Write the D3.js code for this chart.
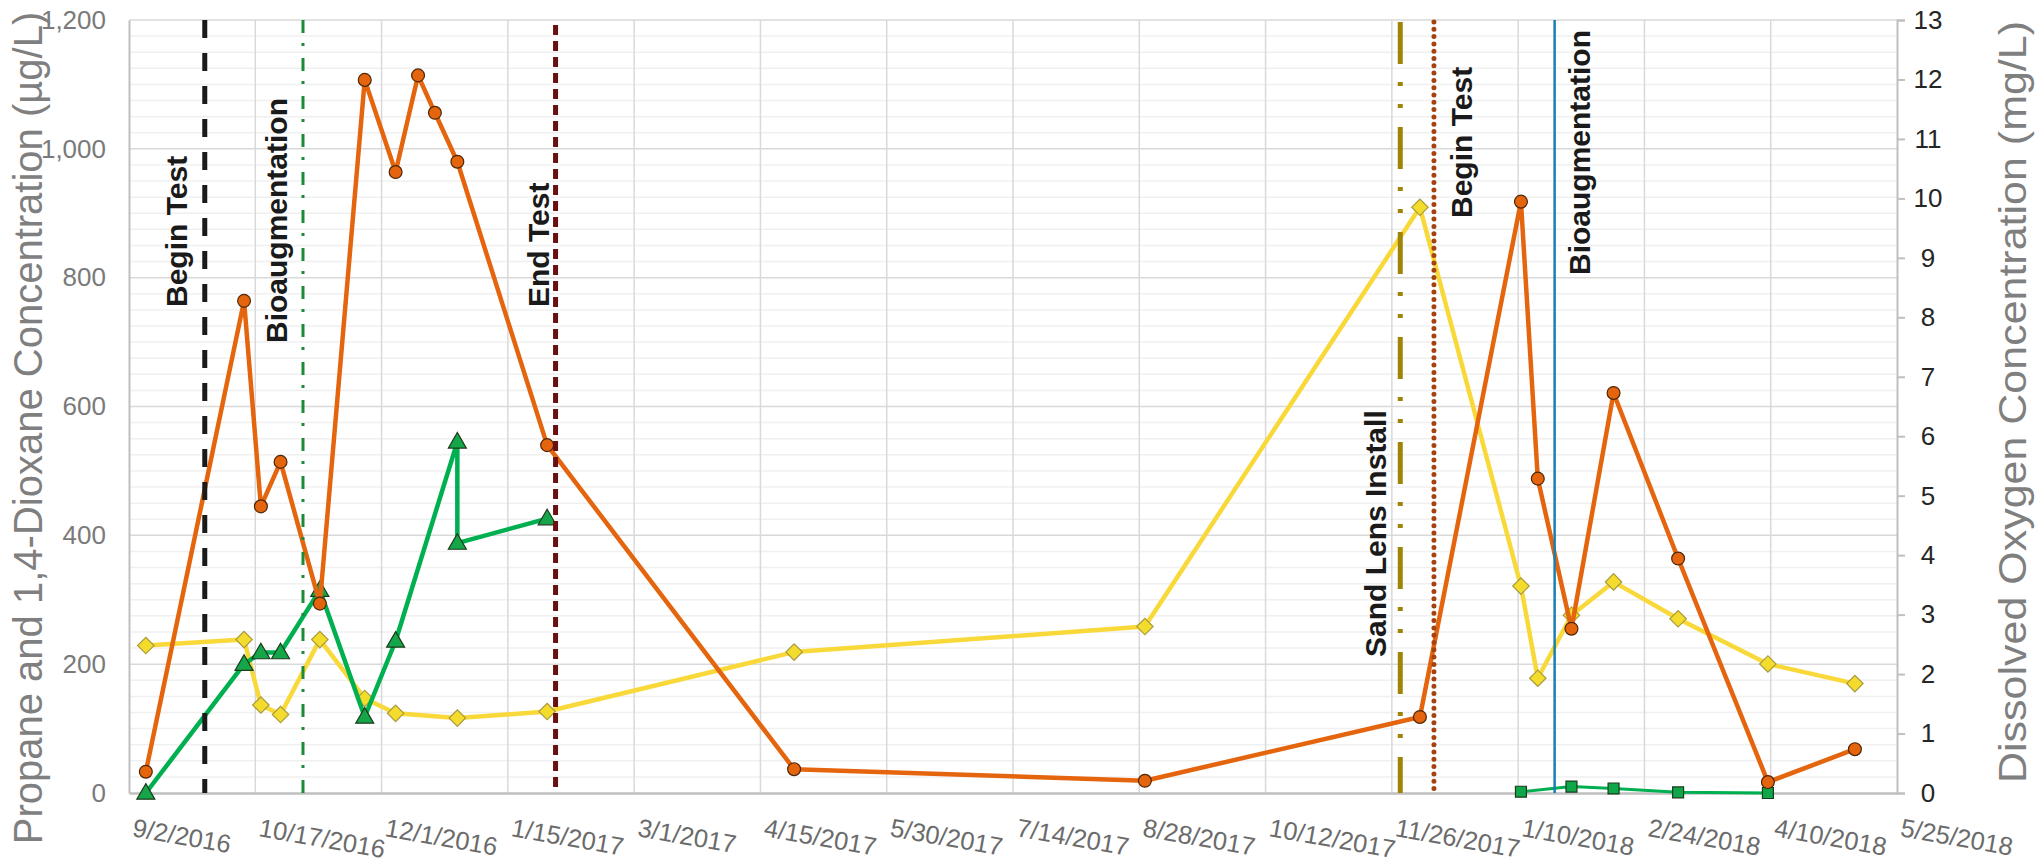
<!DOCTYPE html>
<html>
<head>
<meta charset="utf-8">
<script src="https://cdn.jsdelivr.net/npm/d3@7"></script>
<style>
  html, body { margin: 0; padding: 0; background: #ffffff; }
  svg { display: block; font-family: "Liberation Sans", Arial, sans-serif; }
</style>
</head>
<body>
<svg id="chart" width="2040" height="861"></svg>
<script>
// ---------------- DATA ----------------
const xTickLabels = ["9/2/2016","10/17/2016","12/1/2016","1/15/2017","3/1/2017","4/15/2017","5/30/2017",
  "7/14/2017","8/28/2017","10/12/2017","11/26/2017","1/10/2018","2/24/2018","4/10/2018","5/25/2018"];
const leftTicks = [0, 200, 400, 600, 800, 1000, 1200];
const rightTicks = [0,1,2,3,4,5,6,7,8,9,10,11,12,13];

// 1,4-Dioxane (µg/L, left axis) – orange circles
const dioxaneDates = ["9/8/2016","10/13/2016","10/19/2016","10/26/2016","11/9/2016","11/25/2016","12/6/2016",
  "12/14/2016","12/20/2016","12/28/2016","1/29/2017","4/27/2017","8/30/2017","12/6/2017","1/11/2018",
  "1/17/2018","1/29/2018","2/13/2018","3/8/2018","4/9/2018","5/10/2018"];
const dioxaneValues = [33, 764, 445, 514, 294, 1107, 964, 1114, 1056, 980, 540, 37, 19, 118, 918, 488, 255, 621, 364, 17, 68];

// Propane, first test (µg/L, left axis) – green triangles
const propane1Dates = ["9/8/2016","10/13/2016","10/19/2016","10/26/2016","11/9/2016","11/25/2016","12/6/2016",
  "12/28/2016","12/28/2016","1/29/2017"];
const propane1Values = [0, 200, 218, 218, 315, 118, 236, 545, 388, 426];

// Propane, second test (µg/L, left axis) – green squares
const propane2Dates = ["1/11/2018","1/29/2018","2/13/2018","3/8/2018","4/9/2018"];
const propane2Values = [2, 10, 7, 1, 0];

// Dissolved oxygen (mg/L, right axis) – yellow diamonds
const doDates = ["9/8/2016","10/13/2016","10/19/2016","10/26/2016","11/9/2016","11/25/2016","12/6/2016",
  "12/28/2016","1/29/2017","4/27/2017","8/30/2017","12/6/2017","1/11/2018","1/17/2018","1/29/2018",
  "2/13/2018","3/8/2018","4/9/2018","5/10/2018"];
const doValues = [2.48, 2.58, 1.48, 1.32, 2.58, 1.59, 1.34, 1.26, 1.37, 2.37, 2.80, 9.85, 3.48, 1.93, 2.99, 3.55, 2.93, 2.17, 1.84];

// Event markers
const eventDates = ["9/29/2016","11/3/2016","2/1/2017","11/29/2017","12/11/2017","1/23/2018"];
const eventLabels = ["Begin Test","Bioaugmentation","End Test","Sand Lens Install","Begin Test","Bioaugmentation"];

// ---------------- LAYOUT / STYLE ----------------
const W = 2040, H = 861;
const plot = { left: 129, right: 1897, top: 20, bottom: 793 };
const parse = d3.utcParse("%m/%d/%Y");
const fmtTick = d => (d.getUTCMonth() + 1) + "/" + d.getUTCDate() + "/" + d.getUTCFullYear();

const xTicks = xTickLabels.map(parse);
const x = d3.scaleUtc().domain([xTicks[0], xTicks[xTicks.length - 1]]).range([plot.left, plot.right]);
const yL = d3.scaleLinear().domain([0, 1200]).range([plot.bottom, plot.top]);
const yR = d3.scaleLinear().domain([0, 13]).range([plot.bottom, plot.top]);

const svg = d3.select("#chart");
svg.append("rect").attr("width", W).attr("height", H).attr("fill", "#ffffff");

// ---------- gridlines ----------
const grid = svg.append("g");
const minorVals = d3.range(0, 1201, 25).filter(v => v % 200 !== 0);
grid.selectAll("line.minor").data(minorVals).join("line")
  .attr("x1", plot.left).attr("x2", plot.right)
  .attr("y1", d => yL(d)).attr("y2", d => yL(d))
  .attr("stroke", "#f0f0f0").attr("stroke-width", 1.5);
grid.selectAll("line.vgrid").data(xTicks.slice(1, -1)).join("line")
  .attr("x1", d => x(d)).attr("x2", d => x(d))
  .attr("y1", plot.top).attr("y2", plot.bottom)
  .attr("stroke", "#d9d9d9").attr("stroke-width", 1.5);
grid.selectAll("line.major").data(leftTicks.slice(1)).join("line")
  .attr("x1", plot.left).attr("x2", plot.right)
  .attr("y1", d => yL(d)).attr("y2", d => yL(d))
  .attr("stroke", "#d9d9d9").attr("stroke-width", 1.5);

// ---------- axes ----------
const gx = svg.append("g").attr("transform", `translate(0,${plot.bottom})`)
  .call(d3.axisBottom(x).tickValues(xTicks).tickFormat(fmtTick).tickSize(0));
gx.select(".domain").attr("stroke", "#bfbfbf").attr("stroke-width", 2.5);
gx.selectAll("text")
  .attr("x", 0).attr("y", 0).attr("dy", 0)
  .attr("text-anchor", "start")
  .attr("transform", "translate(2,43) rotate(10)")
  .attr("fill", "#6b6b6b").style("font-size", "25.5px")
  .style("font-family", "'Liberation Sans', Arial, sans-serif");

const gyL = svg.append("g").attr("transform", `translate(${plot.left},0)`)
  .call(d3.axisLeft(yL).tickValues(leftTicks).tickFormat(d3.format(",")).tickSize(0).tickPadding(23));
gyL.select(".domain").attr("stroke", "#bfbfbf").attr("stroke-width", 2);
gyL.selectAll("text").attr("fill", "#7a7a7a").style("font-size", "26px")
  .style("font-family", "'Liberation Sans', Arial, sans-serif");

const gyR = svg.append("g").attr("transform", `translate(${plot.right},0)`)
  .call(d3.axisRight(yR).tickValues(rightTicks).tickSize(8).tickPadding(23));
gyR.select(".domain").attr("stroke", "#bfbfbf").attr("stroke-width", 2);
gyR.selectAll(".tick line").attr("stroke", "#bfbfbf").attr("stroke-width", 2);
gyR.selectAll("text").attr("fill", "#262626").attr("text-anchor", "middle").attr("x", 31)
  .style("font-size", "26px").style("font-family", "'Liberation Sans', Arial, sans-serif");

// ---------- axis titles ----------
svg.append("text")
  .attr("transform", "translate(42,428) rotate(-90)")
  .attr("text-anchor", "middle").attr("fill", "#7f7f7f")
  .style("font-size", "40px")
  .text("Propane and 1,4-Dioxane Concentration (µg/L)");
svg.append("text")
  .attr("transform", "translate(2026,402) rotate(-90)")
  .attr("text-anchor", "middle").attr("fill", "#7f7f7f")
  .attr("textLength", 762).attr("lengthAdjust", "spacingAndGlyphs")
  .style("font-size", "39px")
  .text("Dissolved Oxygen Concentration (mg/L)");

// ---------- series ----------
function series(dates, values, yScale) {
  return dates.map((d, i) => ({ date: parse(d), value: values[i], y: yScale }));
}
const doData = series(doDates, doValues, yR);
const p1Data = series(propane1Dates, propane1Values, yL);
const p2Data = series(propane2Dates, propane2Values, yL);
const dxData = series(dioxaneDates, dioxaneValues, yL);

const lineGen = d3.line().x(d => x(d.date)).y(d => d.y(d.value));
const layer = svg.append("g");

function drawSeries(data, opt) {
  layer.append("path").datum(data).attr("d", lineGen)
    .attr("fill", "none").attr("stroke", opt.line).attr("stroke-width", opt.width)
    .attr("stroke-linejoin", "round");
  layer.append("g").selectAll("path").data(data).join("path")
    .attr("d", d3.symbol().type(opt.symbol).size(opt.size))
    .attr("transform", d => `translate(${x(d.date)},${d.y(d.value) + (opt.dy || 0)}) rotate(${opt.rot || 0})`)
    .attr("fill", opt.fill).attr("stroke", opt.stroke).attr("stroke-width", opt.sw || 1.2);
}
drawSeries(doData, { line: "#f9d93a", width: 4.5, symbol: d3.symbolSquare, size: 135, rot: 45,
  fill: "#f3dc2c", stroke: "#a99a3e", sw: 1.2 });
drawSeries(p1Data, { line: "#00b050", width: 4.5, symbol: d3.symbolTriangle, size: 140, dy: 1,
  fill: "#16a64a", stroke: "#1c3a1c", sw: 1.2 });
drawSeries(p2Data, { line: "#00b050", width: 3, symbol: d3.symbolSquare, size: 120,
  fill: "#10a64a", stroke: "#1c3a1c", sw: 1.2 });
drawSeries(dxData, { line: "#e4650d", width: 4.5, symbol: d3.symbolCircle, size: 130,
  fill: "#e4650d", stroke: "#4f2606", sw: 1.2 });

// ---------- event lines ----------
const eventStyles = [
  { color: "#1a1a1a", width: 5, dash: "18,15", cap: "butt", dx: -18, ly: 307 },
  { color: "#1d8a3a", width: 3, dash: "13,10,3,12", cap: "butt", dx: -16, ly: 343 },
  { color: "#6b1010", width: 5, dash: "10,6", cap: "butt", dx: -7, ly: 307, y1: 25, y2: 790 },
  { color: "#9e8505", width: 5, dash: "42,18,4,18,4,19", cap: "butt", dx: -14, ly: 657, y1: 22 },
  { color: "#a5420e", width: 5, dash: "0,7.3", cap: "round", dx: 38, ly: 218, y1: 22 },
  { color: "#1a7eb3", width: 2.5, dash: null, cap: "butt", dx: 35, ly: 275 }
];
const events = eventDates.map((d, i) => ({ date: parse(d), label: eventLabels[i], s: eventStyles[i] }));
const ev = svg.append("g");
ev.selectAll("line").data(events).join("line")
  .attr("x1", d => x(d.date)).attr("x2", d => x(d.date))
  .attr("y1", d => d.s.y1 || plot.top).attr("y2", d => d.s.y2 || plot.bottom)
  .attr("stroke", d => d.s.color).attr("stroke-width", d => d.s.width)
  .attr("stroke-dasharray", d => d.s.dash).attr("stroke-linecap", d => d.s.cap);
ev.selectAll("text").data(events).join("text")
  .attr("transform", d => `translate(${x(d.date) + d.s.dx},${d.s.ly}) rotate(-90)`)
  .attr("text-anchor", "start").attr("fill", "#1a1a1a")
  .style("font-size", "30px").style("font-weight", "bold")
  .text(d => d.label);
</script>
</body>
</html>
